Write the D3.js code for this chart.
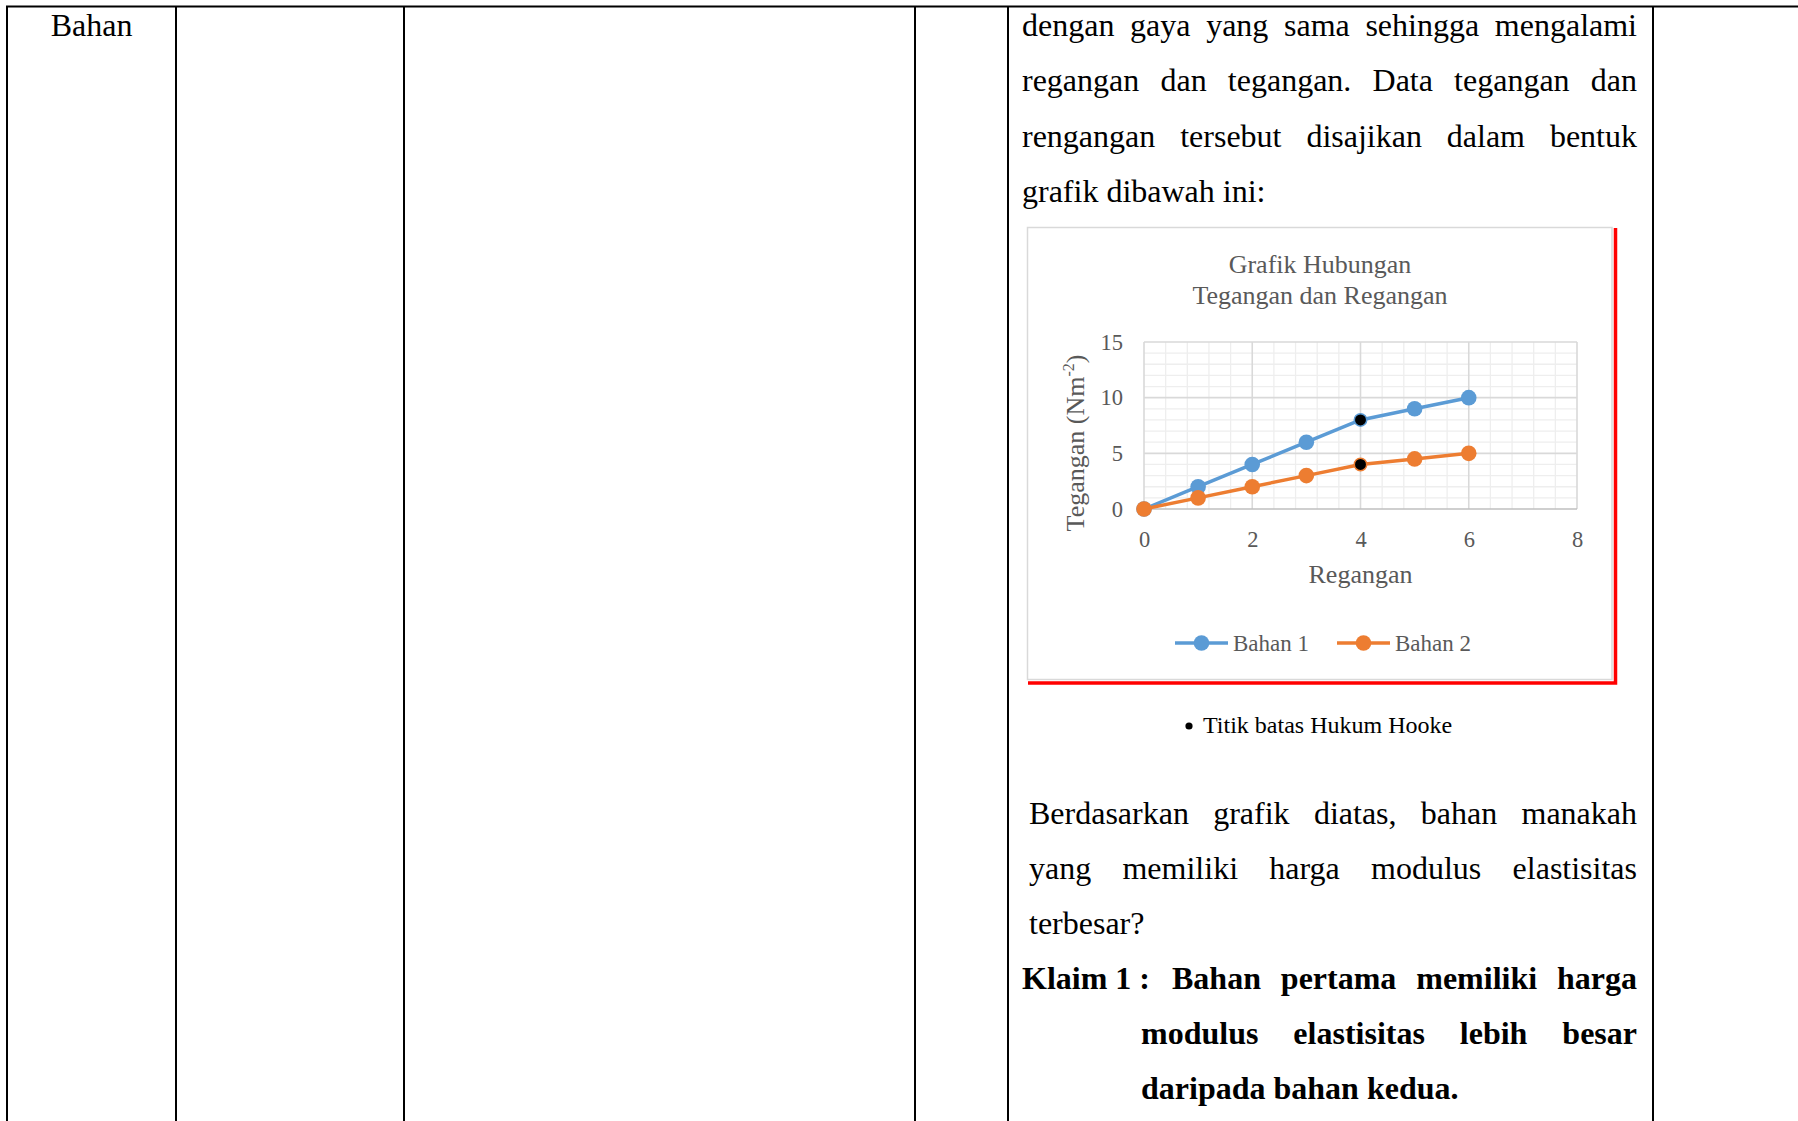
<!DOCTYPE html>
<html>
<head>
<meta charset="utf-8">
<script src="https://cdn.jsdelivr.net/npm/d3@7"></script>
<style>
    html, body { margin: 0; padding: 0; background: #fff; }
    svg { display: block; }
</style>
</head>
<body>
<svg id="page" width="1798" height="1121"></svg>
<script>
// Chart data
const regangan = [0, 1, 2, 3, 4, 5, 6];
const bahan1 = [0, 2, 4, 6, 8, 9, 10];
const bahan2 = [0, 1, 2, 3, 4, 4.5, 5];
const hookeIdx = 4; // titik batas Hukum Hooke (black markers)
const xTicks = [0, 2, 4, 6, 8];
const yTicks = [0, 5, 10, 15];
const seriesNames = ["Bahan 1", "Bahan 2"];
const seriesColors = ["#5b9bd5", "#ed7d31"];

// Text of the page
const introLines = [
    "dengan gaya yang sama sehingga mengalami",
    "regangan dan tegangan. Data tegangan dan",
    "rengangan tersebut disajikan dalam bentuk"
];
const introLast = "grafik dibawah ini:";
const questionLines = [
    "Berdasarkan grafik diatas, bahan manakah",
    "yang memiliki harga modulus elastisitas"
];
const questionLast = "terbesar?";
const klaimLabel = "Klaim 1 :";
const klaimLines = ["Bahan pertama memiliki harga", "modulus elastisitas lebih besar"];
const klaimLast = "daripada bahan kedua.";

const serif = "'Liberation Serif', 'Times New Roman', serif";
const gray = "#595959";

const svg = d3.select("#page");

// Table lines
const columnX = [7, 176, 404, 915, 1008, 1653];
svg.append("line")
    .attr("x1", 6).attr("x2", 1798).attr("y1", 6.5).attr("y2", 6.5)
    .attr("stroke", "#000").attr("stroke-width", 2);
svg.append("g")
    .selectAll("line")
    .data(columnX)
    .join("line")
    .attr("x1", d => d).attr("x2", d => d)
    .attr("y1", 6).attr("y2", 1121)
    .attr("stroke", "#000").attr("stroke-width", 2);

svg.append("text")
    .attr("x", 91.5).attr("y", 36)
    .attr("text-anchor", "middle")
    .style("font-family", serif).style("font-size", "32px")
    .text("Bahan");

// justified line: spread words between x0 and x1
function justify(g, line, x0, x1, y, size, weight) {
    const words = line.split(" ");
    const nodes = words.map(w => g.append("text")
        .attr("y", y)
        .style("font-family", serif)
        .style("font-size", size + "px")
        .style("font-weight", weight || "normal")
        .text(w));
    const widths = nodes.map(n => n.node().getComputedTextLength());
    const gap = (x1 - x0 - d3.sum(widths)) / (words.length - 1);
    let cx = x0;
    nodes.forEach((n, i) => {
        n.attr("x", cx);
        cx += widths[i] + gap;
    });
}

function plain(g, line, x, y, size, weight) {
    return g.append("text")
        .attr("x", x).attr("y", y)
        .style("font-family", serif)
        .style("font-size", size + "px")
        .style("font-weight", weight || "normal")
        .text(line);
}

const body = svg.append("g");
introLines.forEach((l, i) => justify(body, l, 1022, 1637, 36 + i * 55.3, 32));
plain(body, introLast, 1022, 36 + 3 * 55.3, 32);

questionLines.forEach((l, i) => justify(body, l, 1029, 1637, 824 + i * 55, 32));
plain(body, questionLast, 1029, 824 + 2 * 55, 32);

plain(body, klaimLabel, 1022, 989, 32, "bold");
justify(body, klaimLines[0], 1172, 1637, 989, 32, "bold");
justify(body, klaimLines[1], 1141, 1637, 1044, 32, "bold");
plain(body, klaimLast, 1141, 1099, 32, "bold");

// Note under the chart
body.append("circle").attr("cx", 1189).attr("cy", 726).attr("r", 3.6).attr("fill", "#000");
plain(body, "Titik batas Hukum Hooke", 1203, 733, 24);

// Chart frame
const chart = svg.append("g");
chart.append("rect")
    .attr("x", 1027.5).attr("y", 227.5)
    .attr("width", 1612 - 1027.5).attr("height", 679.5 - 227.5)
    .attr("fill", "#fff").attr("stroke", "#d9d9d9").attr("stroke-width", 1.5);
chart.append("path")
    .attr("d", "M1615.5,228 L1615.5,683 L1028,683")
    .attr("fill", "none").attr("stroke", "#ff0000").attr("stroke-width", 3.5);

const x = d3.scaleLinear().domain([0, 8]).range([1144, 1577]);
const y = d3.scaleLinear().domain([0, 15]).range([509, 342]);

// Gridlines: minor then major
const xMinor = d3.range(1, 20).map(i => i * 0.4).filter(v => Math.abs(v / 2 - Math.round(v / 2)) > 1e-6);
const yMinor = d3.range(1, 15).filter(v => v % 5 !== 0);

const grid = chart.append("g");
grid.selectAll("line.xmin")
    .data(xMinor)
    .join("line")
    .attr("class", "xmin")
    .attr("x1", d => x(d)).attr("x2", d => x(d))
    .attr("y1", y(15)).attr("y2", y(0))
    .attr("stroke", "#eeeeee").attr("stroke-width", 1.3);
grid.selectAll("line.ymin")
    .data(yMinor)
    .join("line")
    .attr("class", "ymin")
    .attr("x1", x(0)).attr("x2", x(8))
    .attr("y1", d => y(d)).attr("y2", d => y(d))
    .attr("stroke", "#eeeeee").attr("stroke-width", 1.3);
grid.selectAll("line.xmaj")
    .data(xTicks)
    .join("line")
    .attr("class", "xmaj")
    .attr("x1", d => x(d)).attr("x2", d => x(d))
    .attr("y1", y(15)).attr("y2", y(0))
    .attr("stroke", "#d9d9d9").attr("stroke-width", 1.6);
grid.selectAll("line.ymaj")
    .data(yTicks)
    .join("line")
    .attr("class", "ymaj")
    .attr("x1", x(0)).attr("x2", x(8))
    .attr("y1", d => y(d)).attr("y2", d => y(d))
    .attr("stroke", d => d === 0 ? "#bfbfbf" : "#d9d9d9").attr("stroke-width", 1.6);

// Axes (labels only)
const xAxis = chart.append("g")
    .attr("transform", `translate(0,${y(0)})`)
    .call(d3.axisBottom(x).tickValues(xTicks).tickSize(0).tickPadding(22));
const yAxis = chart.append("g")
    .attr("transform", `translate(${x(0)},0)`)
    .call(d3.axisLeft(y).tickValues(yTicks).tickSize(0).tickPadding(21));
[xAxis, yAxis].forEach(a => {
    a.select(".domain").remove();
    a.selectAll("text")
        .style("font-family", serif)
        .style("font-size", "22.5px")
        .attr("fill", gray);
});

// Title
chart.append("text")
    .attr("x", 1320).attr("y", 273)
    .attr("text-anchor", "middle")
    .style("font-family", serif).style("font-size", "26px")
    .attr("fill", gray)
    .text("Grafik Hubungan");
chart.append("text")
    .attr("x", 1320).attr("y", 304)
    .attr("text-anchor", "middle")
    .style("font-family", serif).style("font-size", "26px")
    .attr("fill", gray)
    .text("Tegangan dan Regangan");

// Axis titles
chart.append("text")
    .attr("x", (x(0) + x(8)) / 2).attr("y", 583)
    .attr("text-anchor", "middle")
    .style("font-family", serif).style("font-size", "26px")
    .attr("fill", gray)
    .text("Regangan");

const yTitle = chart.append("text")
    .attr("transform", "translate(1084,443) rotate(-90)")
    .attr("text-anchor", "middle")
    .style("font-family", serif).style("font-size", "26px")
    .attr("fill", gray);
yTitle.append("tspan").text("Tegangan (Nm");
yTitle.append("tspan").attr("dy", -10).style("font-size", "16px").text("-2");
yTitle.append("tspan").attr("dy", 10).text(")");

// Series
const line = d3.line()
    .x((d, i) => x(regangan[i]))
    .y(d => y(d));

[bahan1, bahan2].forEach((s, k) => {
    const g = chart.append("g");
    g.append("path")
        .datum(s)
        .attr("d", line)
        .attr("fill", "none")
        .attr("stroke", seriesColors[k])
        .attr("stroke-width", 3.5)
        .attr("stroke-linejoin", "round");
    g.selectAll("circle")
        .data(s)
        .join("circle")
        .attr("cx", (d, i) => x(regangan[i]))
        .attr("cy", d => y(d))
        .attr("r", (d, i) => i === hookeIdx ? 6.2 : 7.8)
        .attr("fill", (d, i) => i === hookeIdx ? "#000" : seriesColors[k])
        .attr("stroke", seriesColors[k])
        .attr("stroke-width", (d, i) => i === hookeIdx ? 1.5 : 0);
});

// Legend
const legendX = [1175, 1337];
seriesNames.forEach((name, k) => {
    const lg = chart.append("g").attr("transform", `translate(${legendX[k]},643)`);
    lg.append("line")
        .attr("x1", 0).attr("x2", 53)
        .attr("stroke", seriesColors[k]).attr("stroke-width", 3.5);
    lg.append("circle")
        .attr("cx", 26.5).attr("r", 7.8)
        .attr("fill", seriesColors[k]);
    lg.append("text")
        .attr("x", 58).attr("y", 8)
        .style("font-family", serif).style("font-size", "23px")
        .attr("fill", gray)
        .text(name);
});
</script>
</body>
</html>
